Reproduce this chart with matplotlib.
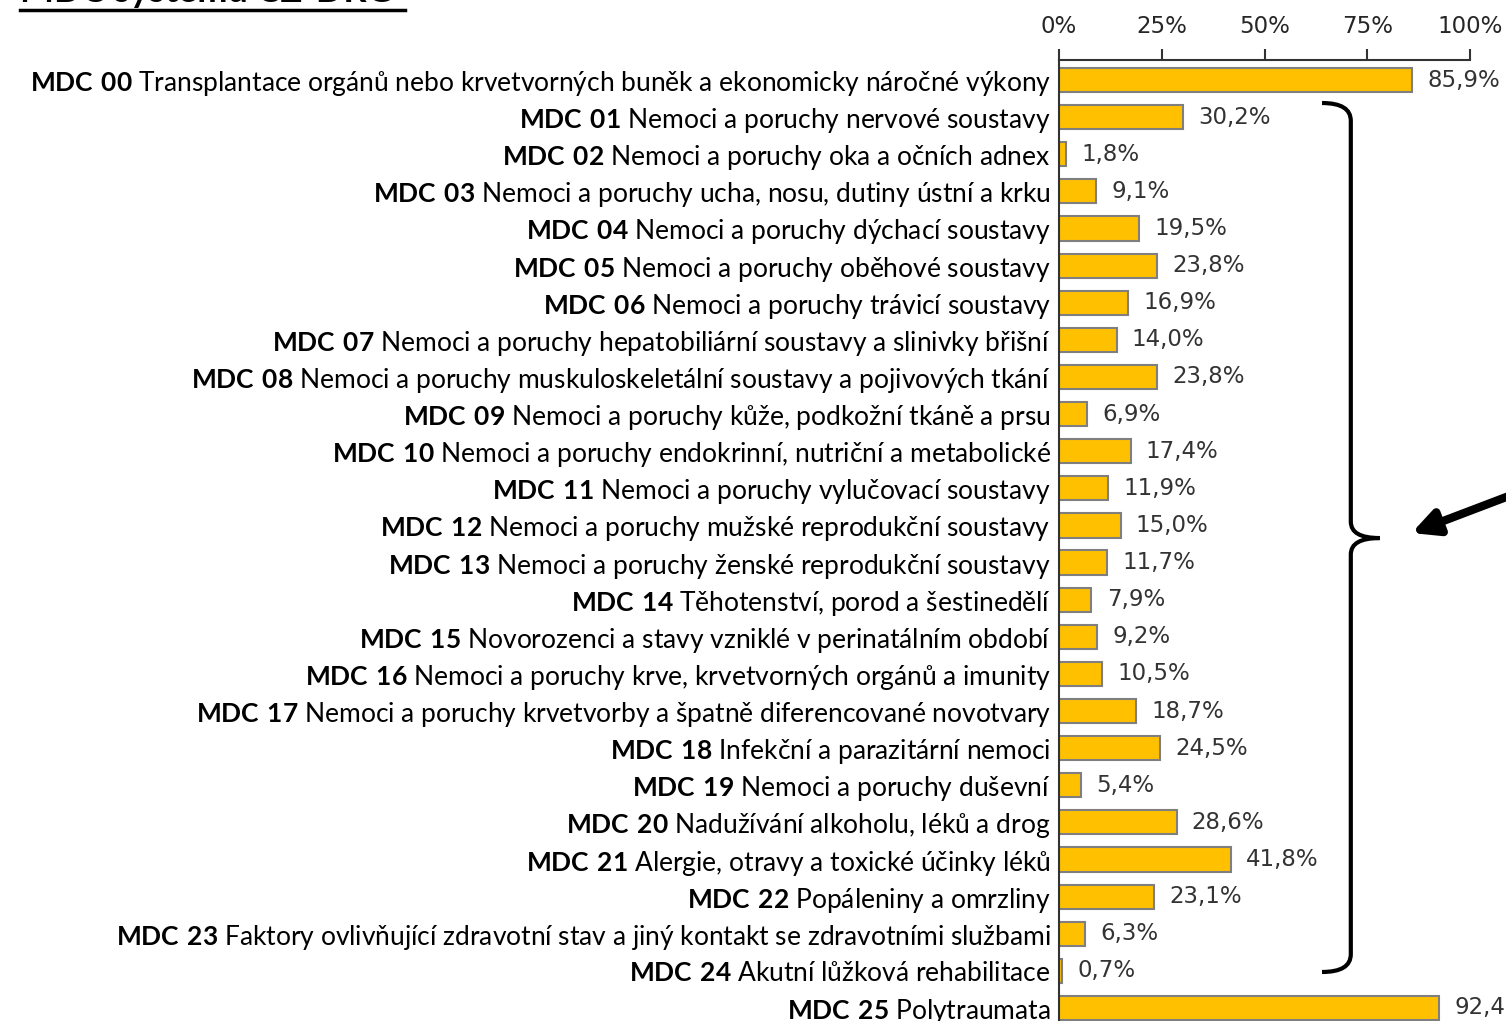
import matplotlib
matplotlib.use("Agg")
import matplotlib.pyplot as plt
from matplotlib.path import Path
from matplotlib.patches import PathPatch
from matplotlib.lines import Line2D

plt.rcParams['mathtext.fontset'] = 'custom'
plt.rcParams['mathtext.rm'] = 'Lato'
plt.rcParams['mathtext.bf'] = 'Lato:bold'

codes = ['00', '01', '02', '03', '04', '05', '06', '07', '08', '09', '10', '11', '12',
         '13', '14', '15', '16', '17', '18', '19', '20', '21', '22', '23', '24', '25']
names = [
    'Transplantace orgánů nebo krvetvorných buněk a ekonomicky náročné výkony',
    'Nemoci a poruchy nervové soustavy',
    'Nemoci a poruchy oka a očních adnex',
    'Nemoci a poruchy ucha, nosu, dutiny ústní a krku',
    'Nemoci a poruchy dýchací soustavy',
    'Nemoci a poruchy oběhové soustavy',
    'Nemoci a poruchy trávicí soustavy',
    'Nemoci a poruchy hepatobiliární soustavy a slinivky břišní',
    'Nemoci a poruchy muskuloskeletální soustavy a pojivových tkání',
    'Nemoci a poruchy kůže, podkožní tkáně a prsu',
    'Nemoci a poruchy endokrinní, nutriční a metabolické',
    'Nemoci a poruchy vylučovací soustavy',
    'Nemoci a poruchy mužské reprodukční soustavy',
    'Nemoci a poruchy ženské reprodukční soustavy',
    'Těhotenství, porod a šestinedělí',
    'Novorozenci a stavy vzniklé v perinatálním období',
    'Nemoci a poruchy krve, krvetvorných orgánů a imunity',
    'Nemoci a poruchy krvetvorby a špatně diferencované novotvary',
    'Infekční a parazitární nemoci',
    'Nemoci a poruchy duševní',
    'Nadužívání alkoholu, léků a drog',
    'Alergie, otravy a toxické účinky léků',
    'Popáleniny a omrzliny',
    'Faktory ovlivňující zdravotní stav a jiný kontakt se zdravotními službami',
    'Akutní lůžková rehabilitace',
    'Polytraumata',
]
values = [85.9, 30.2, 1.8, 9.1, 19.5, 23.8, 16.9, 14.0, 23.8, 6.9, 17.4, 11.9, 15.0,
          11.7, 7.9, 9.2, 10.5, 18.7, 24.5, 5.4, 28.6, 41.8, 23.1, 6.3, 0.7, 92.4]
xticks = [0, 25, 50, 75, 100]

W, H = 1506, 1021
fig = plt.figure(figsize=(W / 100, H / 100), dpi=100)
ax = fig.add_axes([1059 / W, 0, 411 / W, (H - 60) / H])

pos = list(range(len(values)))
ax.barh(pos, values, height=0.65, color='#FFC000', edgecolor='#7F7F7F', linewidth=1.5)
ax.set_xlim(0, 100)
ax.set_ylim(25 + 13 / 37.12, -20 / 37.12)

labels = ['$\\mathbf{MDC\\ ' + c + '}$ ' + n for c, n in zip(codes, names)]
ax.set_yticks(pos)
ax.set_yticklabels(labels, fontsize=19, family='Lato', color='black')
ax.tick_params(axis='y', length=0, pad=6)

ax.xaxis.tick_top()
ax.set_xticks(xticks)
ax.set_xticklabels([f'{t}%' for t in xticks], fontsize=16.5, color='#262626')
ax.tick_params(axis='x', length=8, width=1.5, color='#333333', pad=8)

for s in ['right', 'bottom']:
    ax.spines[s].set_visible(False)
for s in ['top', 'left']:
    ax.spines[s].set_color('#333333')
    ax.spines[s].set_linewidth(1.5)

for i, v in enumerate(values):
    ax.annotate(f'{v:.1f}'.replace('.', ',') + '%', (v, i), xytext=(11, 0),
                textcoords='offset points', va='center', ha='left',
                fontsize=16.5, color='#333333', annotation_clip=False)

# curly bracket around MDC 01 - 24
verts = [(64, 0.62), (71, 0.62), (71, 1.1),
         (71, 11.9), (71, 12.34), (78, 12.34),
         (71, 12.34), (71, 12.78),
         (71, 23.55), (71, 24.03), (64, 24.03)]
pcodes = [Path.MOVETO, Path.CURVE3, Path.CURVE3,
          Path.LINETO, Path.CURVE3, Path.CURVE3,
          Path.CURVE3, Path.CURVE3,
          Path.LINETO, Path.CURVE3, Path.CURVE3]
ax.add_patch(PathPatch(Path(verts, pcodes), fill=False, lw=3, color='black',
                       clip_on=False, capstyle='butt'))

# arrow pointing to the bracket
ax.annotate('', xy=(1409 / W, 1 - 534 / H), xytext=(1530 / W, 1 - 488 / H),
            xycoords='figure fraction', textcoords='figure fraction',
            arrowprops=dict(arrowstyle='-|>', lw=6, color='black', mutation_scale=38),
            annotation_clip=False)

# title, cut off at the top
fig.text(20 / W, 1 - 1.5 / H, 'MDC systému CZ-DRG', fontsize=26, fontweight='bold',
         family='Lato', va='baseline', ha='left')
fig.add_artist(Line2D([20 / W, 405 / W], [1 - 10 / H, 1 - 10 / H], color='black', lw=2.5))

fig.savefig('out.png', dpi=100)
